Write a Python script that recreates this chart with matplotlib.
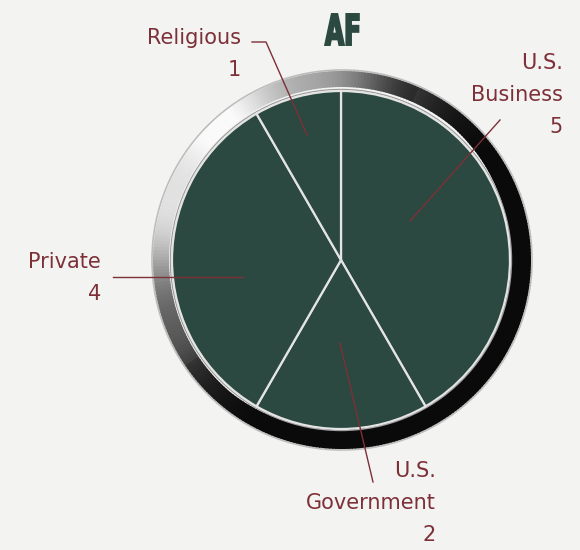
import numpy as np
import matplotlib
matplotlib.use("Agg")
import matplotlib.pyplot as plt
from matplotlib.patches import Wedge, Circle, PathPatch
from matplotlib.textpath import TextPath
from matplotlib.font_manager import FontProperties
from matplotlib.transforms import Affine2D

# ---- data ----
title = "AF"
categories = ["U.S.\nBusiness", "U.S.\nGovernment", "Private", "Religious"]
values = [5, 2, 4, 1]

BG = "#f3f3f1"
GREEN = "#2b4940"
LABEL = "#7d3038"
H = 550

fig = plt.figure(figsize=(5.8, 5.5), dpi=100, facecolor=BG)
ax = fig.add_axes([0, 0, 1, 1])
ax.set_facecolor(BG)

def Y(py):
    return H - py

cx, cy = 341, Y(260)
r_pie = 169
rc_x, rc_y = 342, Y(260)
r_ring = 190

# metallic ring: light at upper-left, dark at lower-right
ax.add_patch(Circle((rc_x, rc_y), r_ring, facecolor="none",
                    edgecolor="#bdbdbd", lw=1.2, zorder=1))
n = 360
for i in range(n):
    a0 = i * 360 / n
    a1 = a0 + 360 / n + 0.3
    am = np.radians(a0 + 180 / n)
    c = np.cos(am - np.radians(140))
    g = 0.04 + 0.93 * max(0.0, (c + 0.25) / 1.25) ** 2.0
    g += 0.05 * np.sin(9 * am) * (g > 0.2)
    g = min(max(g, 0.0), 0.98)
    w = 16 + 6 * max(0.0, -c)
    ax.add_patch(Wedge((rc_x, rc_y), r_ring - 1, a0, a1, width=w,
                       facecolor=(g, g, g), edgecolor="none", zorder=2))

ax.add_patch(Circle((cx, cy), r_pie + 1.5, facecolor="none",
                    edgecolor="#9a9a9a", lw=1.0, zorder=2.5))

wedges, _ = ax.pie(values, startangle=90, counterclock=False,
                   colors=[GREEN] * len(values), center=(cx, cy),
                   radius=r_pie, frame=True,
                   wedgeprops=dict(edgecolor="#e4e4e4", linewidth=1.6))
for w in wedges:
    w.set_zorder(3)
ax.set_xlim(0, 580)
ax.set_ylim(0, H)
ax.set_aspect("equal")
ax.axis("off")

# condensed bold title drawn as a text path
tp = TextPath((0, 0), title, size=44,
              prop=FontProperties(family="DejaVu Sans", weight="bold"))
bb = tp.get_extents()
sx = 0.56
tw = bb.width * sx
th = bb.height
tr = Affine2D().translate(-bb.x0, -bb.y0).scale(sx, 31 / th) \
    .translate(342 - tw / 2, Y(45))
ax.add_patch(PathPatch(tr.transform_path(tp), facecolor=GREEN,
                       edgecolor=GREEN, lw=1.4, zorder=5))

fs = 15
font = ["DejaVu Sans"]

lab = dict(color=LABEL, fontsize=fs, family=font, zorder=5,
           linespacing=1.75)
line = dict(color=LABEL, lw=1.0, zorder=4)

# U.S. Business
ax.text(563, Y(95), f"{categories[0]}\n{values[0]}", ha="right", va="center", **lab)
ax.plot([500, 410], [Y(120), Y(221)], **line)

# U.S. Government
ax.text(436, Y(503), f"{categories[1]}\n{values[1]}", ha="right", va="center", **lab)
ax.plot([373, 340], [Y(482), Y(343)], **line)

# Private
ax.text(101, Y(278), f"{categories[2]}\n{values[2]}", ha="right", va="center", **lab)
ax.plot([113, 243], [Y(277), Y(277)], **line)

# Religious
ax.text(241, Y(54), f"{categories[3]}\n{values[3]}", ha="right", va="center", **lab)
ax.plot([252, 266, 307], [Y(42), Y(42), Y(135)], **line)

fig.savefig("out.png", dpi=100, facecolor=BG)
